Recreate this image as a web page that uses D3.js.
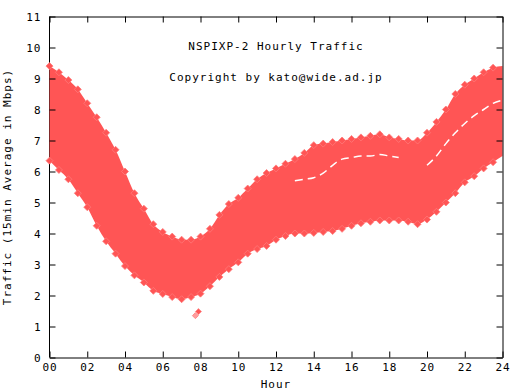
<!DOCTYPE html>
<html>
<head>
<meta charset="utf-8">
<script src="https://cdn.jsdelivr.net/npm/d3@7"></script>
<style>
  body { margin: 0; background: #fff; }
  svg text { font-family: 'DejaVu Sans Mono', monospace; font-size: 11px; letter-spacing: 1px; fill: #000; }
</style>
</head>
<body>
<svg id="chart" width="510" height="390"></svg>
<script>
// sample hours (half-hour steps) for the band
const hours = [0, 0.5, 1, 1.5, 2, 2.5, 3, 3.5, 4, 4.5, 5, 5.5, 6, 6.5, 7, 7.5, 8, 8.5, 9, 9.5,
  10, 10.5, 11, 11.5, 12, 12.5, 13, 13.5, 14, 14.5, 15, 15.5, 16, 16.5, 17, 17.5, 18, 18.5, 19, 19.5,
  20, 20.5, 21, 21.5, 22, 22.5, 23, 23.5, 24];

// highest 15min average seen at each time (Mbps)
const highTraffic = [9.4, 9.2, 8.95, 8.65, 8.2, 7.75, 7.25, 6.7, 6.0, 5.3, 4.8, 4.3, 4.05, 3.9, 3.8, 3.8, 3.9, 4.15, 4.6, 4.95,
  5.15, 5.45, 5.75, 5.95, 6.1, 6.25, 6.4, 6.6, 6.85, 6.9, 6.95, 7.0, 7.05, 7.1, 7.15, 7.2, 7.1, 7.05, 7.0, 7.0,
  7.25, 7.6, 8.0, 8.5, 8.8, 9.0, 9.2, 9.35, 9.4];

// lowest 15min average seen at each time (Mbps)
const lowTraffic = [6.35, 6.05, 5.75, 5.3, 4.85, 4.25, 3.75, 3.35, 2.95, 2.65, 2.42, 2.15, 2.05, 1.95, 1.88, 1.95, 2.06, 2.3, 2.6, 2.85,
  3.07, 3.35, 3.5, 3.6, 3.8, 3.92, 4.0, 4.0, 4.02, 4.05, 4.08, 4.15, 4.25, 4.33, 4.38, 4.42, 4.42, 4.42, 4.38, 4.3,
  4.45, 4.7, 5.0, 5.3, 5.65, 5.85, 6.1, 6.3, 6.5];

// thin empty streaks between day groups inside the band (null = none)
const streak = [null, null, null, null, null, null, null, null, null, null, null, null, null, null, null, null, null, null, null, null,
  null, null, null, null, null, null, 5.7, 5.75, 5.8, 5.95, 6.2, 6.4, 6.45, 6.5, 6.5, 6.55, 6.5, 6.45, null, null,
  6.2, 6.5, 6.9, 7.25, 7.55, 7.8, 8.0, 8.2, 8.3];

// stray low readings around 8am
const strayHours = [7.89, 7.73];
const strayTraffic = [1.48, 1.35];

const xTicks = [0, 2, 4, 6, 8, 10, 12, 14, 16, 18, 20, 22, 24];
const yTicks = [0, 1, 2, 3, 4, 5, 6, 7, 8, 9, 10, 11];

const svg = d3.select('#chart');
const x = d3.scaleLinear().domain([0, 24]).range([49.5, 502.5]);
const y = d3.scaleLinear().domain([0, 11]).range([357.5, 16.5]);
const red = '#ff5555';
const diamond = r => `M0,${-r}L${r},0L0,${r}L${-r},0Z`;

const band = hours.map((h, i) => ({ h: h, lo: lowTraffic[i], hi: highTraffic[i], s: streak[i] }));

// left border goes under the points
svg.append('line')
  .attr('x1', x(0)).attr('x2', x(0))
  .attr('y1', y(0)).attr('y2', y(11))
  .attr('stroke', '#000');

svg.append('path')
  .datum(band)
  .attr('fill', red)
  .attr('d', d3.area()
    .curve(d3.curveMonotoneX)
    .x(d => x(d.h))
    .y0(d => y(d.lo))
    .y1(d => y(d.hi)));

svg.append('path')
  .datum(band)
  .attr('fill', 'none')
  .attr('stroke', '#fff')
  .attr('stroke-width', 1.5)
  .attr('stroke-dasharray', '8 5')
  .attr('d', d3.line()
    .defined(d => d.s !== null)
    .curve(d3.curveMonotoneX)
    .x(d => x(d.h))
    .y(d => y(d.s)));

// jagged edges made of diamonds, one per sample on each side
const edgePts = [];
band.filter(d => d.h < 24).forEach(d => {
  edgePts.push({ h: d.h, v: d.hi });
  edgePts.push({ h: d.h, v: d.lo });
});

svg.append('g').selectAll('path')
  .data(edgePts)
  .join('path')
  .attr('transform', d => `translate(${x(d.h)},${y(d.v)})`)
  .attr('d', diamond(3.5))
  .attr('fill', red)
  .attr('stroke', '#ff7a7a')
  .attr('stroke-width', 0.8);

svg.append('g').selectAll('path')
  .data(strayHours)
  .join('path')
  .attr('transform', (d, i) => `translate(${x(d)},${y(strayTraffic[i])})`)
  .attr('d', diamond(3))
  .attr('fill', (d, i) => i === 0 ? red : '#ff9d9d')
  .attr('stroke', '#ff8f8f');

// axes with inward ticks, mirrored on top and right
svg.append('g')
  .attr('transform', `translate(0,${y(0)})`)
  .call(d3.axisBottom(x).tickValues(xTicks).tickFormat(d3.format('02d')).tickSize(-6).tickSizeOuter(0).tickPadding(6));

svg.append('g')
  .attr('transform', `translate(0,${y(11)})`)
  .call(d3.axisTop(x).tickValues(xTicks).tickFormat('').tickSize(-6).tickSizeOuter(0));

svg.append('g')
  .attr('transform', `translate(${x(24)},0)`)
  .call(d3.axisRight(y).tickValues(yTicks).tickFormat('').tickSize(-6).tickSizeOuter(0));

svg.append('g')
  .attr('transform', `translate(${x(0)},0)`)
  .call(d3.axisLeft(y).tickValues(yTicks).tickSize(-6).tickSizeOuter(0).tickPadding(8))
  .call(g => g.select('.domain').remove());

svg.selectAll('.tick text')
  .attr('font-family', null)
  .attr('font-size', null);

svg.append('text')
  .attr('x', 276).attr('y', 50)
  .attr('text-anchor', 'middle')
  .text('NSPIXP-2 Hourly Traffic');

svg.append('text')
  .attr('x', 276).attr('y', 81)
  .attr('text-anchor', 'middle')
  .text('Copyright by kato@wide.ad.jp');

svg.append('text')
  .attr('x', 276).attr('y', 388)
  .attr('text-anchor', 'middle')
  .text('Hour');

svg.append('text')
  .attr('transform', `translate(11,${(y(0) + y(11)) / 2}) rotate(-90)`)
  .attr('text-anchor', 'middle')
  .text('Traffic (15min Average in Mbps)');
</script>
</body>
</html>
